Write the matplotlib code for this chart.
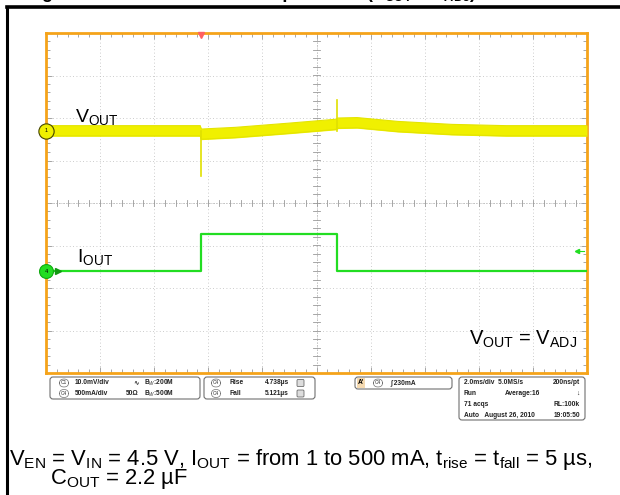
import matplotlib.pyplot as plt
import numpy as np
from matplotlib.patches import FancyBboxPatch

plt.rcParams['font.family'] = ['Liberation Sans', 'DejaVu Sans']
plt.rcParams['mathtext.fontset'] = 'custom'
plt.rcParams['mathtext.rm'] = 'Liberation Sans'
plt.rcParams['mathtext.it'] = 'Liberation Sans:italic'
plt.rcParams['mathtext.bf'] = 'Liberation Sans:bold'

# scope settings
ms_per_div = 2.0
mv_per_div = 10.0
ma_per_div = 500.0
vout_pos = 1.70      # channel offset, divisions above centre
iout_pos = -1.60
trig_ms = 5.72
trig_level_ma = 230

# VOUT deviation (mV), spikes kept apart
vout_t = [0, 5.70, 5.74, 7.0, 9.0, 10.7, 10.8, 11.5, 13.0, 15.0, 17.0, 20.0]
vout_mv = [0, 0, -0.8, -0.4, 0.6, 1.5, 1.8, 1.9, 1.0, 0.3, 0.0, 0.0]
spike_t = [5.72, 10.76]
spike_mv = [-10.6, 7.2]

# IOUT load step (mA)
iout_t = [0, 5.72, 5.72, 10.74, 10.74, 20.0]
iout_ma = [1, 1, 440, 440, 1, 1]

yellow = '#F0F000'
green = '#22DD22'
orange = '#F5A31A'

fig = plt.figure(figsize=(6.2, 4.95), dpi=100)
bg = fig.add_axes([0, 0, 1, 1])
bg.set_xlim(0, 620)
bg.set_ylim(495, 0)
bg.axis('off')

ax = fig.add_axes([46 / 620, 1 - 373 / 495, 541 / 620, 340 / 495])
ax.set_xlim(0, 10)
ax.set_ylim(-4, 4)
for s in ax.spines.values():
    s.set_color(orange)
    s.set_linewidth(2)
ax.set_xticks(range(11))
ax.set_yticks(range(-4, 5))
ax.set_xticks(np.arange(0, 10.01, 0.2), minor=True)
ax.set_yticks(np.arange(-4, 4.01, 0.2), minor=True)
ax.tick_params(which='both', direction='in', top=True, right=True,
               labelbottom=False, labelleft=False, color='#999999', width=0.6)
ax.tick_params(which='major', length=4)
ax.tick_params(which='minor', length=3)
ax.grid(True, which='major', color='#bbbbbb', lw=0.6, ls=(0, (1, 3)))

# centre cross with small ticks
ax.axhline(0, color='#aaaaaa', lw=0.6, ls=(0, (1, 2)))
ax.axvline(5, color='#aaaaaa', lw=0.6, ls=(0, (1, 2)))
for xv in np.arange(0, 10.01, 0.2):
    ax.plot([xv, xv], [-0.07, 0.07], color='#999999', lw=0.6)
for yv in np.arange(-4, 4.01, 0.2):
    ax.plot([4.94, 5.06], [yv, yv], color='#999999', lw=0.6)

# traces
vx = np.array(vout_t) / ms_per_div
vy = vout_pos + np.array(vout_mv) / mv_per_div
ax.fill_between(vx, vy - 0.13, vy + 0.13, color=yellow, lw=0, zorder=3)
ax.plot(vx, vy + 0.12, color='#E4E400', lw=0.8, zorder=3)
ax.plot(vx, vy - 0.12, color='#E4E400', lw=0.8, zorder=3)
for st, sm in zip(spike_t, spike_mv):
    ax.plot([st / ms_per_div] * 2, [vout_pos, vout_pos + sm / mv_per_div],
            color='#E0E000', lw=1.2, zorder=3)

ix = np.array(iout_t) / ms_per_div
iy = iout_pos + np.array(iout_ma) / ma_per_div
ax.plot(ix, iy, color=green, lw=1.6, zorder=3)

# channel / trigger markers
ax.plot(0, vout_pos, 'o', ms=11, mfc=yellow, mec='#444400', mew=0.8, clip_on=False, zorder=6)
ax.text(0, vout_pos, '1', fontsize=4, ha='center', va='center', zorder=7)
ax.plot(0, iout_pos, 'o', ms=10, mfc=green, mec='#11AA11', mew=0.8, clip_on=False, zorder=6)
ax.text(0, iout_pos, '4', fontsize=4, ha='center', va='center', zorder=7)
ax.plot(0.22, iout_pos, marker='>', ms=4, color='#119911', zorder=6)
ty = iout_pos + trig_level_ma / ma_per_div
ax.plot([9.82, 9.95], [ty, ty], color=green, lw=0.8)
ax.plot(9.82, ty, marker='<', ms=3, color=green)
ax.plot(trig_ms / ms_per_div, 3.95, marker='v', ms=4, color='#FF6060', clip_on=False, zorder=6)

ax.text(0.54, 1.9, r'V$_{\mathregular{OUT}}$', fontsize=14, va='baseline')
ax.text(0.57, -1.39, r'I$_{\mathregular{OUT}}$', fontsize=14, va='baseline')
ax.text(9.81, -3.34, r'V$_{\mathregular{OUT}}$ = V$_{\mathregular{ADJ}}$', fontsize=14.5,
        ha='right', va='baseline')

# outer figure frame and title (clipped at the top edge)
bg.plot([7, 7], [7, 495], color='k', lw=2.2)
bg.plot([7, 620], [7, 7], color='k', lw=2.6)
bg.text(26, -1.5, 'Figure 35. Load Transient Response', fontsize=13, fontweight='bold', va='baseline')
bg.text(366, -1.5, r'(V$_{\mathregular{OUT}}$ = V$_{\mathregular{ADJ}}$)', fontsize=13,
        fontweight='bold', va='baseline')


# scope read-out panels
def panel(x, y, w, h):
    bg.add_patch(FancyBboxPatch((x, y), w, h, boxstyle='round,pad=0,rounding_size=3',
                                fc='white', ec='#707070', lw=0.8))


def chip(x, y, s):
    bg.text(x, y, s, fontsize=3.5, ha='center', va='center', color='#333333',
            bbox=dict(boxstyle='round,pad=0.3,rounding_size=0.9', fc='white', ec='#707070', lw=0.5))


def small(x, y, s, ha='left'):
    bg.text(x, y, s, fontsize=4.8, fontweight='bold', ha=ha, va='center', color='#222222')


ch_names = ['C1', 'C4']
ch_scales = ['10.0mV/div', '500mA/div']
ch_imp = ['\u223f', '50\u03a9']
ch_bw = ['B$_W$:200M', 'B$_W$:500M']
meas_names = ['Rise', 'Fall']
meas_vals = ['4.738\u00b5s', '5.121\u00b5s']
trig_text = '\u222b 230mA'
acq_left = ['2.0ms/div  5.0MS/s', 'Run', '71 acqs', 'Auto   August 26, 2010']
acq_mid = ['', 'Average:16', '', '']
acq_right = ['200ns/pt', '\u2193', 'RL:100k', '19:05:50']

panel(50, 377, 150, 22)
panel(204, 377, 111, 22)
panel(355, 377, 97, 12)
panel(459, 377, 126, 43)
for k in range(2):
    yy = 383 + 10.5 * k
    chip(64, yy, ch_names[k])
    small(75, yy, ch_scales[k])
    small(133 if k == 0 else 126, yy, ch_imp[k])
    small(144, yy, ch_bw[k])
    chip(216, yy, 'C4')
    small(229, yy, meas_names[k])
    small(265, yy, meas_vals[k])
    bg.add_patch(FancyBboxPatch((297, yy - 3.5), 7, 7, boxstyle='round,pad=0,rounding_size=1',
                                fc='#dddddd', ec='#555555', lw=0.5))
bg.text(361, 383, "A'", fontsize=4.8, fontweight='bold', ha='center', va='center',
        bbox=dict(boxstyle='square,pad=0.2', fc='#F4D9B0', ec='none'))
chip(378, 383, 'C4')
small(390, 383, trig_text)
for k in range(4):
    yy = 383 + 10.7 * k
    small(464, yy, acq_left[k])
    if acq_mid[k]:
        small(505, yy, acq_mid[k])
    small(580, yy, acq_right[k], ha='right')

# conditions below the screenshot
bg.text(9, 465, r'V$_{\mathregular{EN}}$ = V$_{\mathregular{IN}}$ = 4.5 V, I$_{\mathregular{OUT}}$ = from 1 to 500 mA, '
        r't$_{\mathregular{rise}}$ = t$_{\mathregular{fall}}$ = 5 µs,', fontsize=15.8, va='baseline')
bg.text(50, 484, r'C$_{\mathregular{OUT}}$ = 2.2 µF', fontsize=15.8, va='baseline')

fig.savefig('out.png', dpi=100)
